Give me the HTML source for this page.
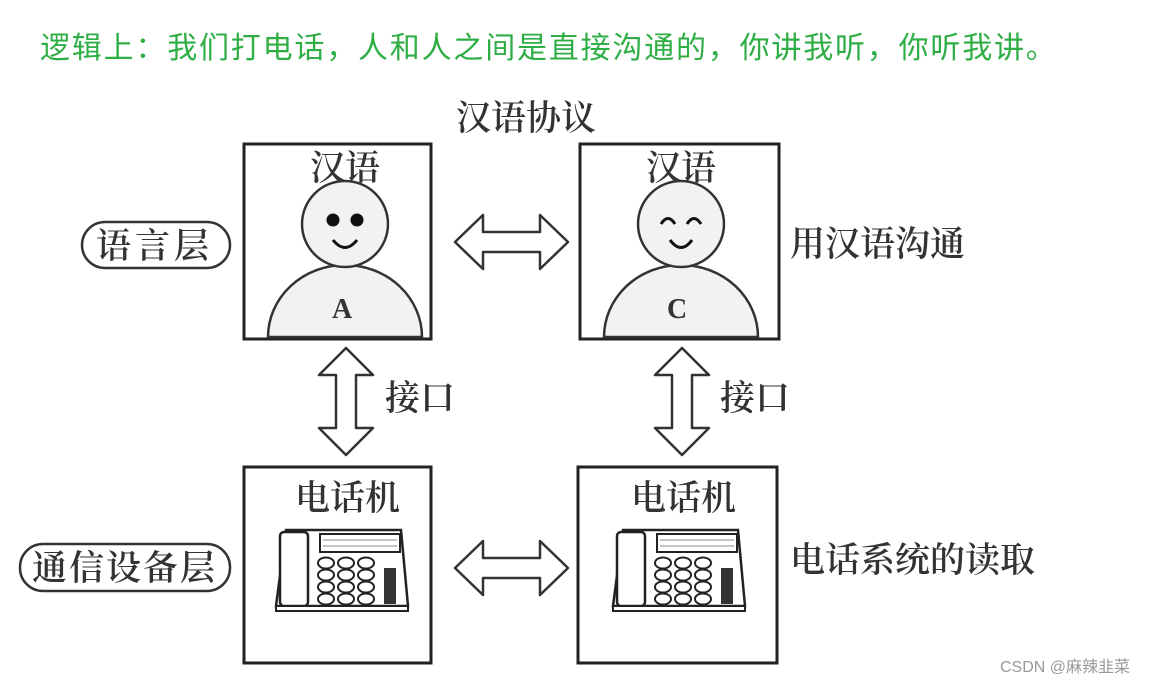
<!DOCTYPE html>
<html><head><meta charset="utf-8"><style>
body{margin:0;width:1173px;height:685px;background:#fff;overflow:hidden}
</style></head><body>
<svg width="1173" height="685" xmlns="http://www.w3.org/2000/svg" style="position:absolute;left:0;top:0">
<defs>
<g id="harrow"><path d="M455,242 L483,215 L483,232 L540,232 L540,215 L568,242 L540,269 L540,252 L483,252 L483,269 Z" fill="#fff" stroke="#333" stroke-width="2.5" stroke-linejoin="round"/></g>
<g id="varrow"><path d="M0,0 L27,27 L10,27 L10,80 L27,80 L0,107 L-27,80 L-10,80 L-10,27 L-27,27 Z" fill="#fff" stroke="#333" stroke-width="2.5" stroke-linejoin="round"/></g>
<g id="phone">
<path d="M0,76 L10,0 L125,0 L132,76 Z" fill="#fff" stroke="#222" stroke-width="2.5"/>
<rect x="4" y="2" width="28" height="74" rx="4" fill="#fff" stroke="#222" stroke-width="2.5"/>
<rect x="44" y="4" width="80" height="18" fill="#fff" stroke="#222" stroke-width="2"/>
<line x1="47" y1="10" x2="121" y2="10" stroke="#888"/><line x1="47" y1="16" x2="121" y2="16" stroke="#888"/>
<g fill="#fff" stroke="#222" stroke-width="2">
<ellipse cx="50" cy="33" rx="8" ry="5.5"/><ellipse cx="70" cy="33" rx="8" ry="5.5"/><ellipse cx="90" cy="33" rx="8" ry="5.5"/>
<ellipse cx="50" cy="45" rx="8" ry="5.5"/><ellipse cx="70" cy="45" rx="8" ry="5.5"/><ellipse cx="90" cy="45" rx="8" ry="5.5"/>
<ellipse cx="50" cy="57" rx="8" ry="5.5"/><ellipse cx="70" cy="57" rx="8" ry="5.5"/><ellipse cx="90" cy="57" rx="8" ry="5.5"/>
<ellipse cx="50" cy="69" rx="8" ry="5.5"/><ellipse cx="70" cy="69" rx="8" ry="5.5"/><ellipse cx="90" cy="69" rx="8" ry="5.5"/>
</g>
<rect x="108" y="38" width="12" height="36" fill="#333"/>
<rect x="0" y="76" width="132" height="5" fill="#fff" stroke="#222" stroke-width="2"/>
</g>
</defs>
<text x="40" y="58" font-family="Liberation Sans, Noto Sans CJK SC, sans-serif" font-size="30" letter-spacing="1.8" fill="#2fae45">逻辑上：我们打电话，人和人之间是直接沟通的，你讲我听，你听我讲。</text>
<g font-family="Liberation Serif, Noto Serif CJK SC, serif" fill="#333" font-weight="600">
<text x="456" y="130" font-size="35">汉语协议</text>
<rect x="244" y="144" width="187" height="195" fill="#fff" stroke="#222" stroke-width="3"/>
<rect x="580" y="144" width="199" height="195" fill="#fff" stroke="#222" stroke-width="3"/>
<text x="310" y="180" font-size="35">汉语</text>
<text x="646" y="180" font-size="35">汉语</text>
<!-- person A -->
<path d="M268,337 A77,72 0 0 1 422,337 Z" fill="#f2f2f2" stroke="#333" stroke-width="2.5"/>
<circle cx="345" cy="224" r="43" fill="#f2f2f2" stroke="#333" stroke-width="2.5"/>
<circle cx="333" cy="220" r="6.5" fill="#111"/><circle cx="357" cy="220" r="6.5" fill="#111"/>
<path d="M333,240 Q345,255 357,240" fill="none" stroke="#111" stroke-width="3"/>
<text x="332" y="318" font-size="28">A</text>
<!-- person C -->
<path d="M604,337 A77,72 0 0 1 758,337 Z" fill="#f2f2f2" stroke="#333" stroke-width="2.5"/>
<circle cx="681" cy="224" r="43" fill="#f2f2f2" stroke="#333" stroke-width="2.5"/>
<path d="M661,224 Q668,213 675,224 M687,224 Q694,213 701,224" fill="none" stroke="#111" stroke-width="3"/>
<path d="M670,240 Q681,255 692,240" fill="none" stroke="#111" stroke-width="3"/>
<text x="667" y="318" font-size="28">C</text>
<use href="#harrow"/>
<use href="#harrow" transform="translate(0,326)"/>
<use href="#varrow" transform="translate(346,348)"/>
<use href="#varrow" transform="translate(682,348)"/>
<text x="385" y="410" font-size="35">接口</text>
<text x="720" y="410" font-size="35">接口</text>
<rect x="244" y="467" width="187" height="196" fill="#fff" stroke="#222" stroke-width="3"/>
<rect x="578" y="467" width="199" height="196" fill="#fff" stroke="#222" stroke-width="3"/>
<text x="295" y="510" font-size="35">电话机</text>
<text x="631" y="510" font-size="35">电话机</text>
<use href="#phone" transform="translate(276,530)"/>
<use href="#phone" transform="translate(613,530)"/>
<rect x="82" y="222" width="148" height="46" rx="23" fill="#fff" stroke="#333" stroke-width="2.5"/>
<text x="96" y="258" font-size="35" letter-spacing="4">语言层</text>
<rect x="20" y="544" width="210" height="47" rx="23" fill="#fff" stroke="#333" stroke-width="2.5"/>
<text x="32" y="580" font-size="35" letter-spacing="2">通信设备层</text>
<text x="790" y="256" font-size="35">用汉语沟通</text>
<text x="790" y="572" font-size="35">电话系统的读取</text>
</g>
<text x="1000" y="672" font-family="Liberation Sans, Noto Sans CJK SC, sans-serif" font-size="16" fill="#999">CSDN @麻辣韭菜</text>
</svg>
</body></html>
